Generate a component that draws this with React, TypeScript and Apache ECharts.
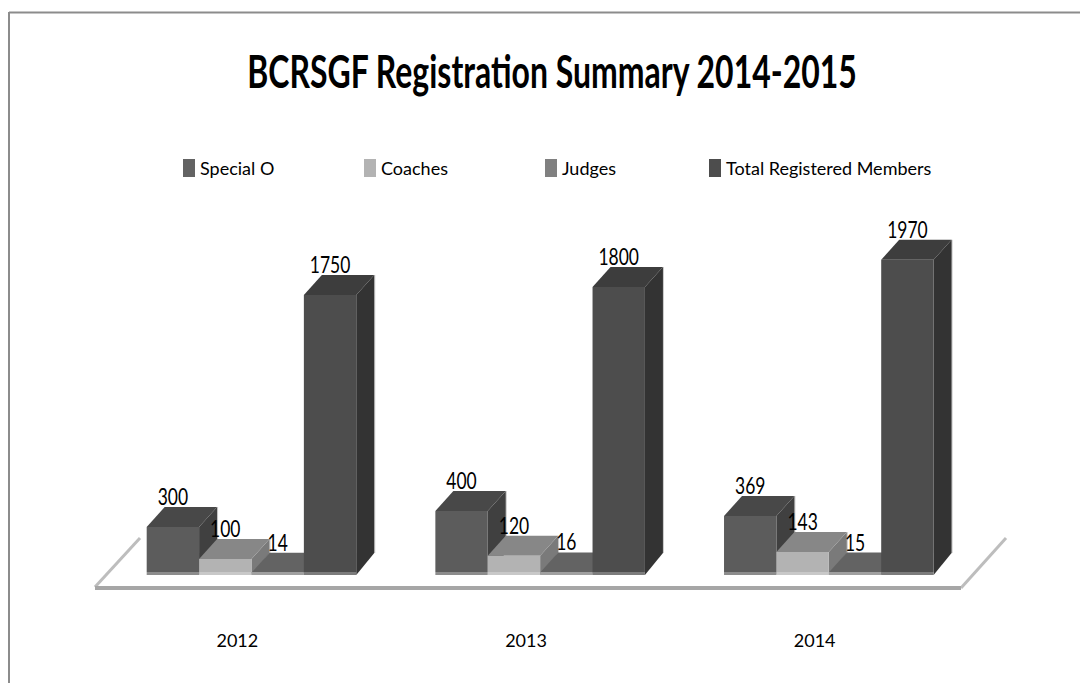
import React, { useEffect, useRef } from "react";
import * as echarts from "echarts";

const chartTitle = "BCRSGF Registration Summary 2014-2015";
const years = ["2012", "2013", "2014"];
const specialO = [300, 400, 369];
const coaches = [100, 120, 143];
const judges = [14, 16, 15];
const totalMembers = [1750, 1800, 1970];
const names = ["Special O", "Coaches", "Judges", "Total Registered Members"];
const seriesValues = [specialO, coaches, judges, totalMembers];
const fronts = ["#5c5c5c", "#b3b3b3", "#6a6a6a", "#4d4d4d"];
const tops = ["#484848", "#878787", "#636363", "#3d3d3d"];
const sides = ["#404040", "#7a7a7a", "#5a5a5a", "#333333"];
const strips = ["#8c8c8c", "#c8c8c8", "#a0a0a0", "#7c7c7c"];
const legendColors = ["#636363", "#b3b3b3", "#808080", "#4d4d4d"];
const legendLefts = [183, 364, 545, 709];
const FONT = "Lato, sans-serif";

const DX = 18, DY = 20;

function barRenderer(idx: number) {
  return (_params: any, api: any) => {
    const cat = api.value(0);
    const val = api.value(1);
    const [cx, base] = api.coord([cat, 0]);
    const [, topY] = api.coord([cat, val]);
    const band = api.size([1, 0])[0];
    const w = band * 0.1815;
    const x0 = cx + band * 0.049 + (idx - 2) * w;
    const x1 = x0 + w;
    const stripY = base - 3;
    return {
      type: "group",
      children: [
        { type: "line", shape: { x1: x1 + DX + 0.5, y1: topY - DY, x2: x1 + DX + 0.5, y2: base - DY - 2 }, style: { stroke: "#c8c8c8", lineWidth: 1 } },
        { type: "polygon", shape: { points: [[x1, topY], [x1 + DX, topY - DY], [x1 + DX, base - DY - 2], [x1, base]] }, style: { fill: sides[idx] } },
        { type: "polygon", shape: { points: [[x0, topY], [x0 + DX, topY - DY], [x1 + DX, topY - DY], [x1, topY]] }, style: { fill: tops[idx] } },
        { type: "rect", shape: { x: x0, y: topY, width: w, height: Math.max(stripY - topY, 0) }, style: { fill: fronts[idx] } },
        { type: "rect", shape: { x: x0, y: stripY, width: w, height: 3 }, style: { fill: strips[idx] } },
        { type: "text", x: x0 + w / 2, y: topY - DY - 11, scaleX: 0.76, style: { text: String(val), x: 0, y: 0, align: "center", verticalAlign: "middle", fill: "#000", font: `23px ${FONT}` } },
      ],
    };
  };
}

function floorRenderer(params: any, api: any) {
  const g = params.coordSys;
  const base = api.coord([0, 0])[1];
  const y = base + 13;
  const left = g.x + 2;
  const right = g.x + g.width + 2;
  return {
    type: "group",
    children: [
      { type: "line", shape: { x1: left, y1: y - 1, x2: left + 45, y2: y - 50 }, style: { stroke: "#bdbdbd", lineWidth: 3 } },
      { type: "line", shape: { x1: right, y1: y, x2: right + 45, y2: y - 50 }, style: { stroke: "#bdbdbd", lineWidth: 3 } },
      { type: "line", shape: { x1: left, y1: y, x2: right, y2: y }, style: { stroke: "#a6a6a6", lineWidth: 4 } },
    ],
  };
}

export default function App() {
  const ref = useRef<HTMLDivElement>(null);
  useEffect(() => {
    const chart = echarts.init(ref.current!, undefined, { renderer: "svg" });
    chart.setOption({
      animation: false,
      backgroundColor: "#fff",
      graphic: [
        { type: "line", shape: { x1: 9, y1: 12.5, x2: 1080, y2: 12.5 }, style: { stroke: "#8c8c8c", lineWidth: 2 } },
        { type: "line", shape: { x1: 9, y1: 12, x2: 9, y2: 683 }, style: { stroke: "#8c8c8c", lineWidth: 2 } },
        {
          type: "text",
          x: 552,
          y: 70,
          scaleX: 0.695,
          style: { text: chartTitle, x: 0, y: 0, align: "center", verticalAlign: "middle", fill: "#000", font: `bold 46px ${FONT}` },
        },
      ],
      legend: names.map((n, i) => ({
        left: legendLefts[i],
        top: 159,
        padding: 0,
        data: [n],
        itemWidth: 12,
        itemHeight: 18,
        itemGap: 0,
        icon: "rect",
        selectedMode: false,
        textStyle: { fontFamily: FONT, fontSize: 18, color: "#000", padding: [4, 0, 0, 0] },
      })),
      grid: { left: 93, right: 121, top: 255, bottom: 108 },
      xAxis: {
        type: "category",
        data: years,
        axisLine: { show: false },
        axisTick: { show: false },
        axisLabel: { margin: 56, fontFamily: FONT, fontSize: 18, color: "#000" },
      },
      yAxis: { type: "value", min: 0, max: 2000, show: false, splitLine: { show: false } },
      series: [
        {
          type: "custom",
          name: "floor",
          silent: true,
          coordinateSystem: "cartesian2d",
          renderItem: floorRenderer,
          data: [[0, 0]],
          encode: { x: 0, y: 1 },
          z: 1,
        },
        ...names.map((n, i) => ({
          type: "custom",
          name: n,
          coordinateSystem: "cartesian2d",
          renderItem: barRenderer(i),
          itemStyle: { color: legendColors[i] },
          data: seriesValues[i].map((v, c) => [c, v]),
          encode: { x: 0, y: 1 },
          z: 2 + i,
        })),
      ],
    });
    return () => chart.dispose();
  }, []);
  return <div ref={ref} style={{ position: "fixed", left: 0, top: 0, width: 1080, height: 683 }} />;
}
